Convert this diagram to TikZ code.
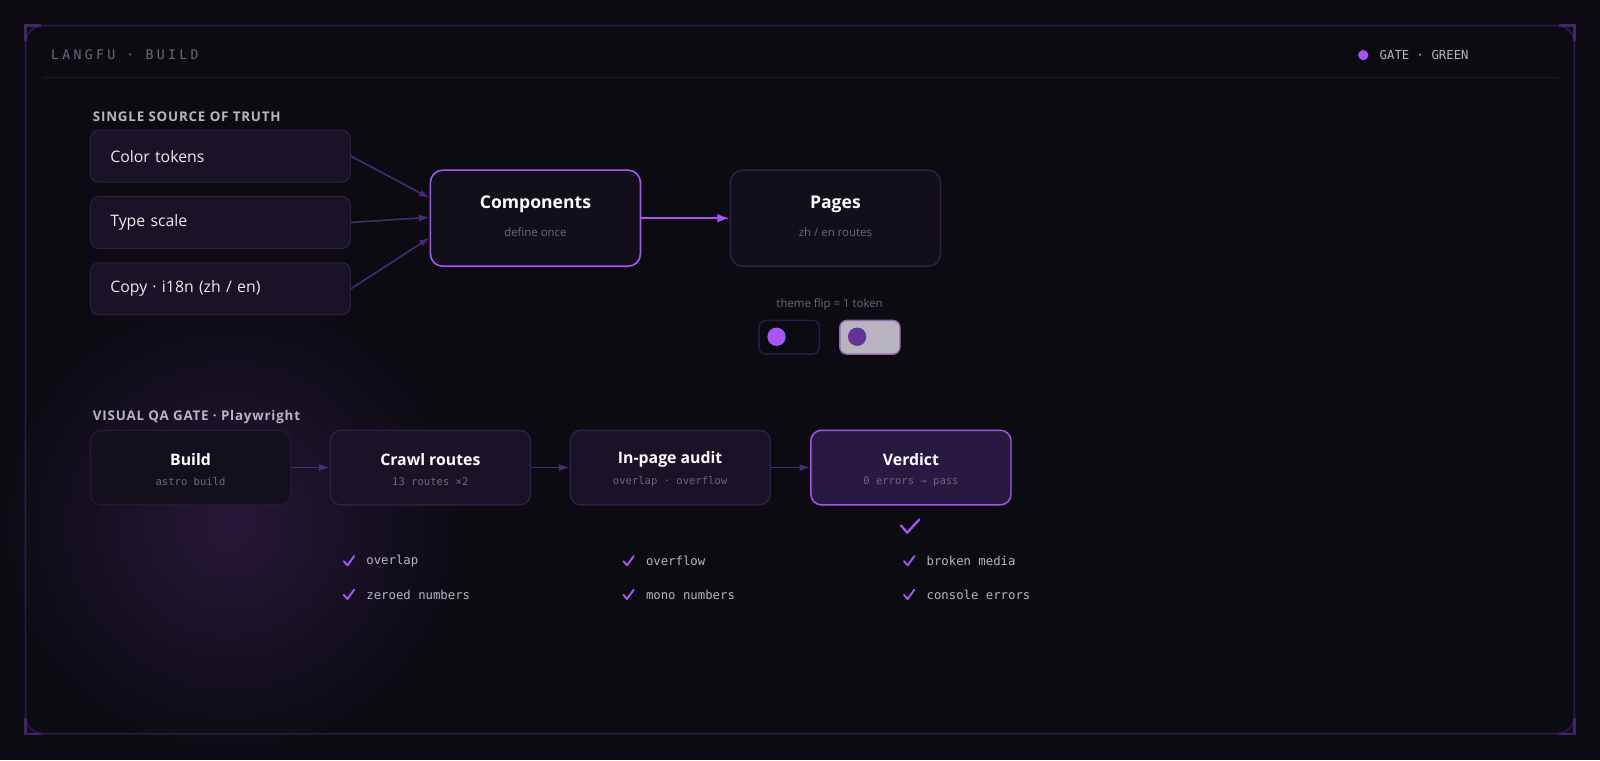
\documentclass[tikz,border=0pt]{standalone}
\usepackage{fontspec}
\setmainfont{Open Sans}
\setmonofont{DejaVu Sans Mono}
\usetikzlibrary{positioning,arrows.meta,calc}
\definecolor{bg}{HTML}{0B0A10}
\definecolor{panel}{HTML}{0C0B12}
\definecolor{rim}{HTML}{2A1A45}
\definecolor{boxfill}{HTML}{1A1226}
\definecolor{boxline}{HTML}{2E1F45}
\definecolor{violet}{HTML}{A855F7}
\definecolor{dimtext}{HTML}{6E6878}
\definecolor{softtext}{HTML}{B8B4C0}
\definecolor{link}{HTML}{4A2A75}
\tikzset{
  src/.style={draw=boxline, fill=boxfill, rounded corners=5pt, line width=0.6pt,
    minimum width=5.2cm, minimum height=1.04cm, text=white!92!black,
    font=\fontsize{9}{11}\selectfont, anchor=north west, inner xsep=0.4cm,
    text width=4.4cm, align=left},
  stage/.style={draw=#1, fill=boxfill, rounded corners=6pt, line width=0.8pt,
    minimum width=4.0cm, minimum height=1.49cm, anchor=north west},
  big/.style={draw=#1, fill=panel!60!boxfill, rounded corners=7pt, line width=0.9pt,
    minimum width=4.2cm, minimum height=1.92cm, anchor=north west},
  title/.style={text=white, font=\fontsize{#1}{12}\selectfont\bfseries},
  sub/.style={text=dimtext, font=\fontsize{6.5}{8}\selectfont},
  subm/.style={text=dimtext, font=\ttfamily\fontsize{6}{8}\selectfont},
  head/.style={text=softtext, font=\fontsize{7.6}{9}\selectfont\bfseries\addfontfeature{LetterSpace=6}, anchor=west},
  item/.style={text=softtext, font=\ttfamily\fontsize{7}{9}\selectfont, anchor=west},
  wire/.style={draw=link, line width=0.9pt, -{Latex[length=6pt,width=4pt]}},
  tick/.style={draw=violet, line width=1.1pt, line cap=round, line join=round},
}
\newcommand\checkat[2]{% tick mark at pixel position
  \draw[tick] ($(#1,#2)+(-5,0)$) -- ($(#1,#2)+(-1.5,4)$) -- ($(#1,#2)+(5,-5)$);
}
\begin{document}
\begin{tikzpicture}[x=0.0204cm, y=-0.0204cm]
\fill[bg] (0,0) rectangle (1568,745);
\useasboundingbox (0,0) rectangle (1568,745);
% frame
\fill[panel] (25,25) rectangle (1543,719);
\shade[inner color=violet!17!panel, outer color=panel] (225,515) circle (225);
\draw[rim, line width=1pt, rounded corners=10pt] (25,25) rectangle (1543,719);
\draw[rim!80!violet, line width=1.2pt] (25,40) -- (25,25) -- (40,25);
\draw[rim!80!violet, line width=1.2pt] (1528,25) -- (1543,25) -- (1543,40);
\draw[rim!80!violet, line width=1.2pt] (25,704) -- (25,719) -- (40,719);
\draw[rim!80!violet, line width=1.2pt] (1528,719) -- (1543,719) -- (1543,704);
\draw[rim!70!panel, line width=0.8pt] (42,76) -- (1527,76);
\node[anchor=west, text=dimtext, font=\ttfamily\fontsize{7.5}{9}\selectfont\addfontfeature{LetterSpace=25}] (brand) at (44,54) {LANGFU · BUILD};
\fill[violet] (1336,54) circle (5);
\node[anchor=west, text=softtext, font=\ttfamily\fontsize{7}{9}\selectfont] (gate) at (1346,54) {GATE · GREEN};

% single source of truth
\node[head] (srchead) at (85,114) {SINGLE SOURCE OF TRUTH};
\node[src] (color) at (88,127) {Color tokens};
\node[src] (type) at (88,192) {Type scale};
\node[src] (copy) at (88,257) {Copy · i18n (zh / en)};
\node[big=violet] (comp) at (421,166) {};
\node[title=10] at ($(comp.center)+(0,-14)$) {Components};
\node[sub] at ($(comp.center)+(0,14)$) {define once};
\node[big=boxline] (pages) at (715,166) {};
\node[title=10] at ($(pages.center)+(0,-14)$) {Pages};
\node[sub] at ($(pages.center)+(0,14)$) {zh / en routes};
\draw[wire] (color.east) -- (comp.west |- 0,194);
\draw[wire] (type.east) -- (comp.west |- 0,213);
\draw[wire] (copy.east) -- (comp.west |- 0,233);
\draw[draw=violet, line width=1.1pt, -{Latex[length=7pt,width=5pt]}] (comp) -- (pages);

% theme toggle
\node[sub] (flip) at (813,298) {theme flip = 1 token};
\draw[rim, fill=bg, rounded corners=4pt, line width=0.8pt] (744,314) rectangle (803,347);
\fill[violet] (761,330) circle (9);
\draw[violet!40!gray, fill=softtext, rounded corners=4pt, line width=0.8pt] (823,314) rectangle (882,347);
\fill[violet!60!black] (840,330) circle (9);

% visual QA gate
\node[head] (qahead) at (85,409) {VISUAL QA GATE · Playwright};
\node[stage=boxline!70!panel, fill=boxfill!55!panel] (build) at (88,421) {};
\node[stage=boxline] (crawl) at (323,421) {};
\node[stage=boxline] (audit) at (558,421) {};
\node[stage=violet, fill=rim!85!boxfill] (verdict) at (794,421) {};
\foreach \n/\t/\s in {build/Build/astro build, crawl/Crawl routes/13 routes ×2,
  audit/In-page audit/overlap · overflow, verdict/Verdict/0 errors → pass}{
  \node[title=9] at ($(\n.center)+(0,-8)$) {\t};
  \node[subm] at ($(\n.center)+(0,14)$) {\s};
}
\draw[wire] (build) -- (crawl);
\draw[wire] (crawl) -- (audit);
\draw[wire] (audit) -- (verdict);

% checks
\draw[tick, line width=1.3pt] (883,515) -- (889,522) -- (901,509);
\foreach \x/\a/\b in {342/overlap/zeroed numbers, 616/overflow/mono numbers, 891/broken media/console errors}{
  \checkat{\x}{550}
  \checkat{\x}{583}
  \node[item] at (\x+11,550) {\a};
  \node[item] at (\x+11,583) {\b};
}
\end{tikzpicture}
\end{document}
